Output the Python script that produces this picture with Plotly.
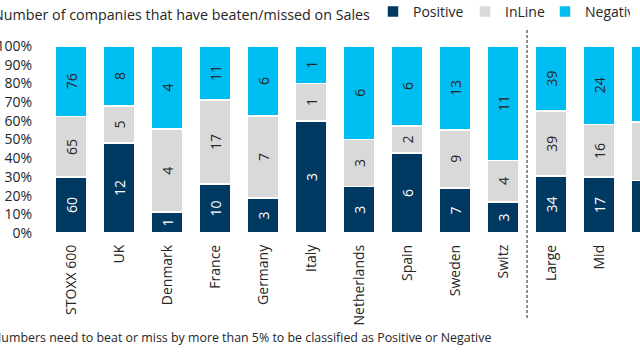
import plotly.graph_objects as go

categories = ["STOXX 600", "UK", "Denmark", "France", "Germany", "Italy",
              "Netherlands", "Spain", "Sweden", "Switz", "Large", "Mid", "Small"]
positive = [60, 12, 1, 10, 3, 3, 3, 6, 7, 3, 34, 17, 9]
inline = [65, 5, 4, 17, 7, 1, 3, 2, 9, 4, 39, 16, 10]
negative = [76, 8, 4, 11, 6, 1, 6, 6, 13, 11, 39, 24, 13]
y_ticks = list(range(0, 101, 10))
y_tick_labels = [f"{v}%" for v in y_ticks]

NAVY = "#003A63"
GREY = "#D9D9D9"
CYAN = "#00BEF2"
TXT = "#262626"
FONT = "Open Sans"

L, T, W, H = 47, 46, 593, 187  # plot area in pixels


def px_x(p):
    return (p - L) / W


def px_y(p):
    return (T + H - p) / H


fig = go.Figure()
series = [("Positive", positive, NAVY, "white", 47),
          ("InLine", inline, GREY, TXT, 35),
          ("Negative", negative, CYAN, TXT, 40)]
for name, vals, col, tcol, lw in series:
    fig.add_trace(go.Bar(
        name=name, x=categories, y=vals, text=[str(v) for v in vals],
        marker=dict(color=col, line=dict(color="white", width=1.5)),
        textposition="inside", insidetextanchor="middle", textangle=-90,
        insidetextfont=dict(color=tcol, size=14, family=FONT),
        constraintext="none", legendwidth=lw, hoverinfo="skip",
    ))

fig.update_layout(
    width=640, height=360,
    barmode="stack", barnorm="percent", bargap=0.344,
    hovermode=False,
    plot_bgcolor="white", paper_bgcolor="white",
    margin=dict(l=L, r=640 - L - W, t=T, b=360 - T - H, autoexpand=False),
    font=dict(family=FONT, color=TXT, size=14),
    legend=dict(orientation="h", xref="container", yref="container",
                x=373 / 640, xanchor="left", y=1 - 12 / 360, yanchor="middle",
                font=dict(size=14, color=TXT, family=FONT),
                itemwidth=30, traceorder="normal", bgcolor="rgba(0,0,0,0)"),
    xaxis=dict(type="category", range=[-0.5, 11.853], showgrid=False,
               showline=False, zeroline=False, tickangle=-90, ticks="",
               tickfont=dict(size=14, color=TXT, family=FONT),
               ticklabelstandoff=8, automargin=False),
    yaxis=dict(range=[0, 100], tickvals=y_ticks, ticktext=y_tick_labels,
               showgrid=False, showline=False, zeroline=False, ticks="",
               tickfont=dict(size=14, color=TXT, family=FONT),
               ticklabelstandoff=14, automargin=False),
    annotations=[
        dict(text="Number of companies that have beaten/missed on Sales",
             xref="paper", yref="paper", x=px_x(-9), y=px_y(14),
             xanchor="left", yanchor="middle", showarrow=False,
             font=dict(size=14.3, color=TXT, family=FONT)),
        dict(text="Numbers need to beat or miss by more than 5% to be classified as Positive or Negative",
             xref="paper", yref="paper", x=px_x(-10), y=px_y(337),
             xanchor="left", yanchor="middle", showarrow=False,
             font=dict(size=12.4, color=TXT, family=FONT))],
    shapes=[dict(type="line", xref="x", yref="paper", x0=9.5, x1=9.5,
                 y0=px_y(318), y1=px_y(28),
                 line=dict(color="#222222", width=1, dash="3px,2px"))],
)

fig.write_html("out.html",
               config={"displayModeBar": False, "staticPlot": True},
               post_script="document.body.style.margin='0px';")
